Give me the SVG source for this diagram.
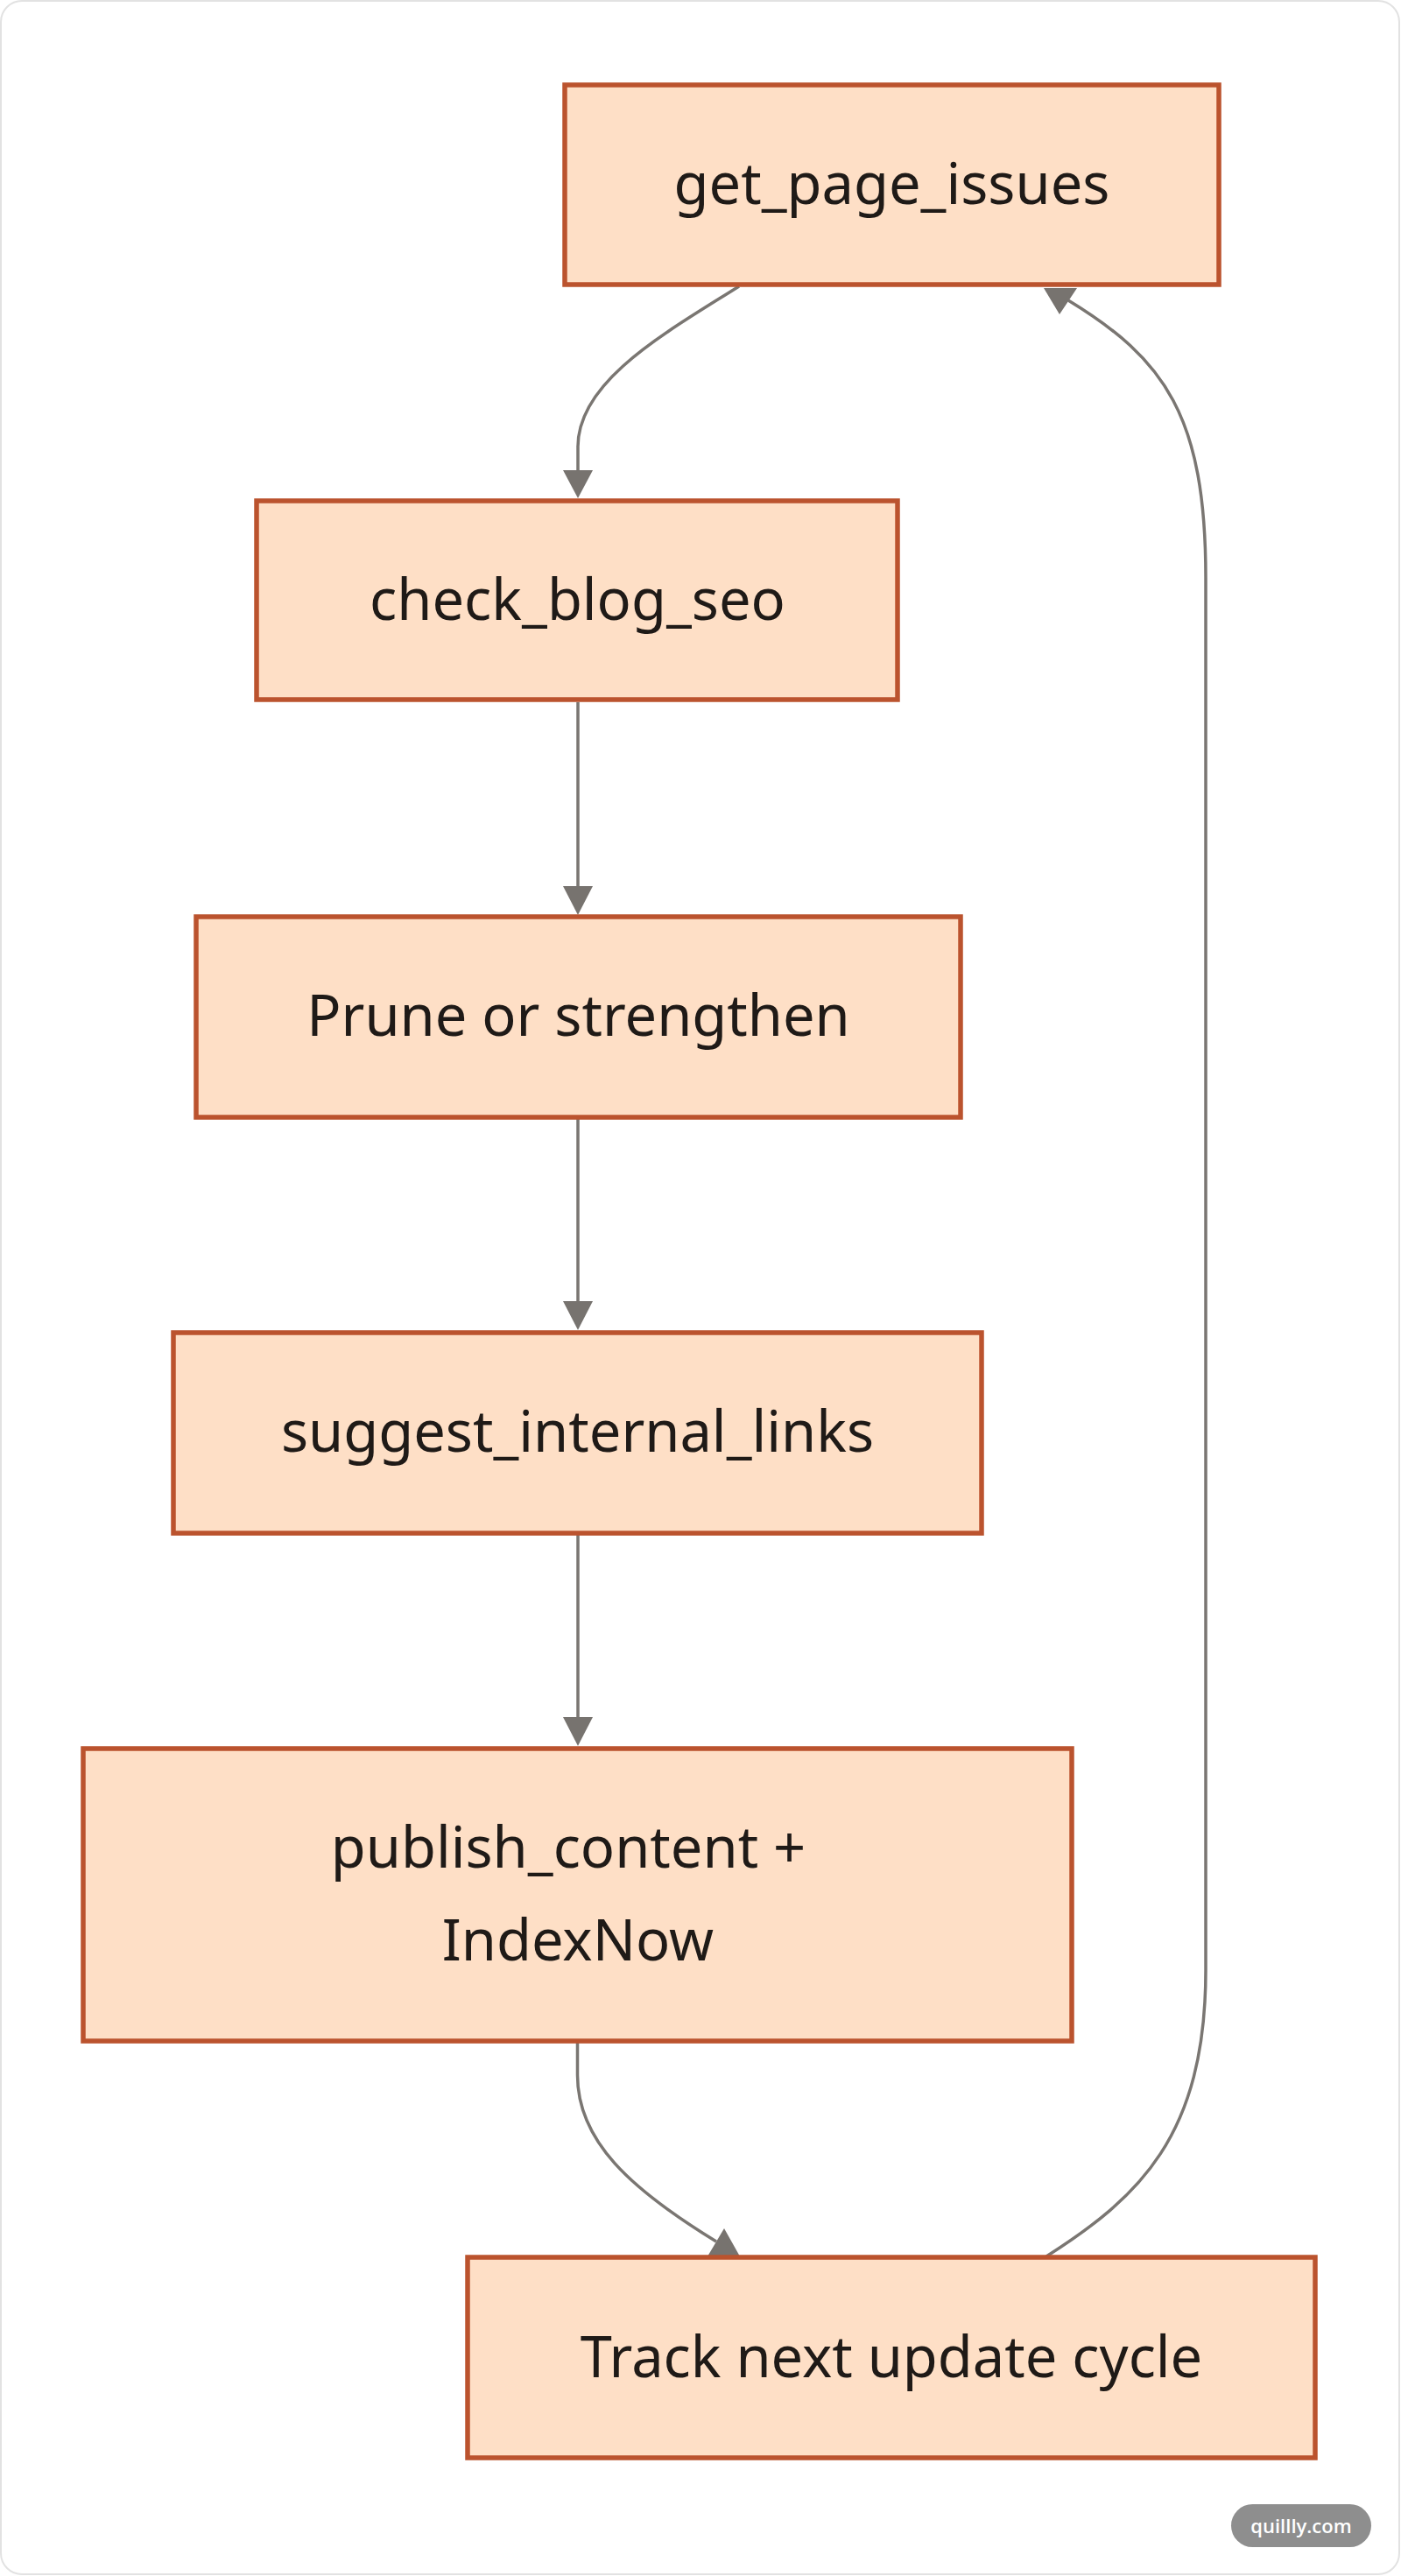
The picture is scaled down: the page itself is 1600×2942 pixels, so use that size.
<svg xmlns="http://www.w3.org/2000/svg" width="1600" height="2942" viewBox="0 0 1600 2942">
<style>
.frame{fill:#ffffff;stroke:#e2e2e2;stroke-width:2}
.node rect{fill:#fedfc6;stroke:#bb532e;stroke-width:5.5}
.node text{font-family:"Noto Sans","Open Sans","DejaVu Sans",sans-serif;font-size:65px;fill:#1f1a17;text-anchor:middle}
.edge{fill:none;stroke:#7a7672;stroke-width:3.5}
.arrowhead{fill:#77736f;stroke:none}
.badge rect{fill:#8e8e8e}
.badge text{font-family:"Open Sans","Noto Sans",sans-serif;font-size:22px;font-weight:600;fill:#ffffff;text-anchor:middle}
</style>
<rect class="frame" x="1" y="1" width="1597" height="2939" rx="24" ry="24"/>
<g id="connectors">
<path class="edge" d="M 844 327 C 760 380, 660 435, 660 510 L 660 537"/>
<polygon class="arrowhead" points="643,537 677,537 660,569"/>
<path class="edge" d="M 660 802 L 660 1012"/>
<polygon class="arrowhead" points="643,1012 677,1012 660,1045"/>
<path class="edge" d="M 660 1278 L 660 1486"/>
<polygon class="arrowhead" points="643,1486 677,1486 660,1519"/>
<path class="edge" d="M 660 1753 L 660 1961"/>
<polygon class="arrowhead" points="643,1961 677,1961 660,1994"/>
<path class="edge" d="M 659.5 2332 L 659.5 2370 C 659.5 2445, 720 2500, 818 2560"/>
<polygon class="arrowhead" points="827,2545 845,2577 808,2577"/>
<path class="edge" d="M 1195 2577 C 1300 2510, 1377 2440, 1377 2250 L 1377 660 C 1377 475, 1330 410, 1220 343"/>
<polygon class="arrowhead" points="1192,329 1230,329 1210,359"/>
</g>
<g id="node-get_page_issues" class="node">
<rect x="645" y="97" width="747" height="228"/>
<text x="1018.5" y="233">get_page_issues</text>
</g>
<g id="node-check_blog_seo" class="node">
<rect x="293" y="572" width="732" height="227"/>
<text x="659.5" y="708">check_blog_seo</text>
</g>
<g id="node-prune" class="node">
<rect x="224" y="1047" width="873" height="229"/>
<text x="660.5" y="1183">Prune or strengthen</text>
</g>
<g id="node-suggest_internal_links" class="node">
<rect x="198" y="1522" width="923" height="229"/>
<text x="659.5" y="1658">suggest_internal_links</text>
</g>
<g id="node-publish_content" class="node">
<rect x="95" y="1997" width="1129" height="334"/>
<text x="649" y="2133">publish_content +</text>
<text x="660" y="2239">IndexNow</text>
</g>
<g id="node-track" class="node">
<rect x="534" y="2578" width="968" height="229"/>
<text x="1018" y="2715">Track next update cycle</text>
</g>
<g id="badge" class="badge">
<rect x="1406" y="2860" width="160" height="49" rx="24.5" ry="24.5"/>
<text x="1486" y="2893">quillly.com</text>
</g>
</svg>
